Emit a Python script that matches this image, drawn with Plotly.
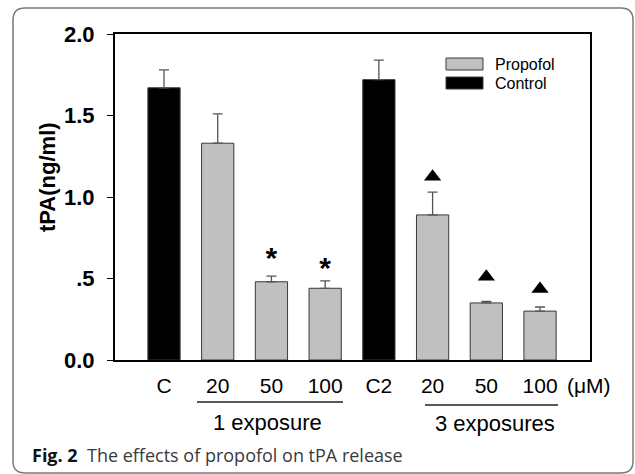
import plotly.graph_objects as go

# ---- data ----
categories = ["C", "20", "50", "100", "C2", "20", "50", "100"]
groups = ["Control", "Propofol", "Propofol", "Propofol", "Control", "Propofol", "Propofol", "Propofol"]
tpa_means = [1.67, 1.33, 0.48, 0.44, 1.72, 0.89, 0.35, 0.30]
tpa_sem = [0.11, 0.18, 0.035, 0.045, 0.12, 0.14, 0.01, 0.025]
star_idx = [2, 3]
star_y = [0.61, 0.55]
tri_idx = [5, 6, 7]
tri_y = [1.125, 0.51, 0.435]
y_ticks = [0.0, 0.5, 1.0, 1.5, 2.0]
y_ticklabels = ["0.0", ".5", "1.0", "1.5", "2.0"]

W, H = 635, 474
L, R, T, B = 115, 590, 34, 360

GRAY = "#c0c0c0"
FONT = "Liberation Sans, Arial, sans-serif"

def px(xp):
    return (xp - L) / (R - L)

def py(yp):
    return (B - yp) / (B - T)

fig = go.Figure()
xs = list(range(len(categories)))
for name, color in [("Propofol", GRAY), ("Control", "#000000")]:
    ix = [i for i, g in enumerate(groups) if g == name]
    fig.add_trace(go.Bar(
        x=[xs[i] for i in ix], y=[tpa_means[i] for i in ix], name=name,
        width=0.6, marker=dict(color=color, line=dict(color="#3a3a3a", width=1)),
        error_y=dict(type="data", array=[tpa_sem[i] for i in ix], arrayminus=[0] * len(ix),
                     symmetric=False, color="#555555", thickness=1.3, width=5),
        showlegend=False,
    ))

fig.add_trace(go.Scatter(
    x=[xs[i] for i in star_idx], y=star_y, mode="text", text=["<b>*</b>"] * len(star_idx),
    textfont=dict(family=FONT, size=30, color="black"), textposition="middle center",
    showlegend=False, hoverinfo="skip"))
fig.add_trace(go.Scatter(
    x=[xs[i] for i in tri_idx], y=tri_y, mode="markers",
    marker=dict(symbol="triangle-up", size=15, color="black"),
    showlegend=False, hoverinfo="skip"))

fig.update_layout(
    width=W, height=H, margin=dict(l=L, r=W - R, t=T, b=H - B),
    paper_bgcolor="white", plot_bgcolor="white", barmode="overlay",
    font=dict(family=FONT, color="black"),
)
fig.update_xaxes(range=[-0.912, 7.93], tickvals=xs, ticktext=categories,
                 tickfont=dict(size=21, family=FONT), showline=True, linecolor="black",
                 linewidth=2, mirror=True, ticks="", showgrid=False, zeroline=False,
                 ticklabelstandoff=6)
fig.update_yaxes(range=[0, 2.0], tickvals=y_ticks, ticktext=y_ticklabels,
                 tickfont=dict(size=22, family=FONT, weight="bold"), showline=True,
                 linecolor="black", linewidth=2, mirror=True, ticks="outside",
                 ticklen=6, tickcolor="black", showgrid=False, zeroline=False,
                 ticklabelstandoff=8)

shapes = []
ann = []

def note(xp, yp, text, size, **kw):
    d = dict(x=px(xp), y=py(yp), xref="paper", yref="paper", text=text, showarrow=False,
             xanchor="center", yanchor="middle", font=dict(size=size, family=FONT))
    d.update(kw)
    ann.append(d)

# y title
note(47, 177, "<b>tPA(ng/ml)</b>", 22, textangle=-90)
# unit
note(589, 385, "(μM)", 21)
# group lines & labels
shapes.append(dict(type="line", xref="paper", yref="paper", x0=px(197), x1=px(343),
                   y0=py(402), y1=py(402), line=dict(color="#222", width=1.5)))
shapes.append(dict(type="line", xref="paper", yref="paper", x0=px(425), x1=px(558),
                   y0=py(405), y1=py(405), line=dict(color="#222", width=1.5)))
note(267, 422, "1 exposure", 22)
note(495, 423, "3 exposures", 22)
# legend
for (name, color, y0, y1) in [("Propofol", GRAY, 58, 70), ("Control", "#000000", 77, 89)]:
    shapes.append(dict(type="rect", xref="paper", yref="paper", x0=px(446), x1=px(483),
                       y0=py(y1), y1=py(y0), fillcolor=color, line=dict(color="#3a3a3a", width=1)))
    note(493, (y0 + y1) / 2, name, 16, xanchor="left")

# outer rounded border
r = 12
pts = [("M", 13, 8 + r), ("Q", 13, 8), ("", 13 + r, 8), ("L", 633 - r, 8), ("Q", 633, 8),
       ("", 633, 8 + r), ("L", 633, 473 - r), ("Q", 633, 473), ("", 633 - r, 473),
       ("L", 13 + r, 473), ("Q", 13, 473), ("", 13, 473 - r)]
path = " ".join(f"{c} {px(a):.5f},{py(b):.5f}".strip() for c, a, b in pts) + " Z"
shapes.append(dict(type="path", xref="paper", yref="paper", path=path,
                   line=dict(color="#7a7a7a", width=1.5), layer="below"))
# caption
ann.append(dict(x=px(30), y=py(455), xref="paper", yref="paper",
                text="<b style='color:#111'>Fig. 2</b>  The effects of propofol on tPA release",
                showarrow=False, xanchor="left", yanchor="middle",
                font=dict(size=18, family="Open Sans, sans-serif", color="#3a3a3a")))

fig.update_layout(shapes=shapes, annotations=ann)
fig.write_html("out.html", config={"displayModeBar": False},
               post_script="document.body.style.margin='0';")
